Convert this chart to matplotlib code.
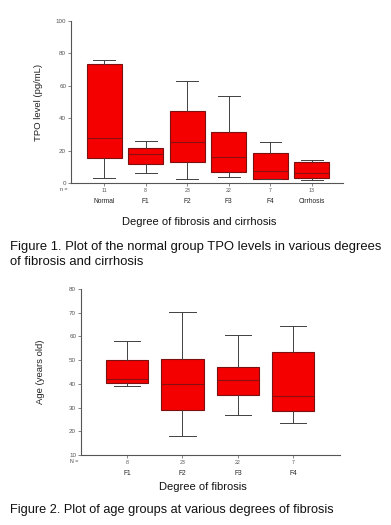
import matplotlib
matplotlib.use("Agg")
import matplotlib.pyplot as plt
import numpy as np

plt.rcParams["font.family"] = ["Liberation Sans", "DejaVu Sans"]

# Figure 1: TPO level by degree of fibrosis / cirrhosis
groups1 = ["Normal", "F1", "F2", "F3", "F4", "Cirrhosis"]
n1 = ["11", "8", "23", "22", "7", "13"]
low1 = [3.1, 6.0, 2.7, 3.5, 2.3, 2.1]
q1_1 = [15.4, 11.5, 12.7, 7.0, 2.7, 3.1]
med1 = [27.5, 17.7, 25.1, 16.2, 7.2, 6.2]
q3_1 = [73.3, 21.4, 44.6, 31.6, 18.7, 13.1]
high1 = [76.2, 26.1, 62.8, 54.0, 25.3, 14.4]

# Figure 2: age by degree of fibrosis
groups2 = ["F1", "F2", "F3", "F4"]
n2 = ["8", "23", "22", "7"]
low2 = [39.0, 17.9, 27.0, 23.7]
q1_2 = [40.4, 29.0, 35.1, 28.5]
med2 = [42.0, 40.0, 41.5, 35.0]
q3_2 = [50.0, 50.4, 47.1, 53.3]
high2 = [58.0, 70.2, 60.7, 64.4]

W, H = 391, 525
fig = plt.figure(figsize=(W / 100, H / 100), dpi=100)
fig.patch.set_facecolor("white")


def box_axes(rect, groups, n, low, q1, med, q3, high, width, xlim, ylim, yticks,
             ylabel, ylabel_x, xlabel, nlabel, xlabel_y):
    ax = fig.add_axes(rect)
    stats = []
    for i in range(len(groups)):
        stats.append({"whislo": low[i], "q1": q1[i], "med": med[i],
                      "q3": q3[i], "whishi": high[i], "fliers": []})
    pos = np.arange(1, len(groups) + 1)
    ax.bxp(stats, positions=pos, widths=width, patch_artist=True,
           showfliers=False,
           boxprops=dict(facecolor="#f40000", edgecolor="#7a1010", linewidth=0.8),
           medianprops=dict(color="#8a1010", linewidth=0.8),
           whiskerprops=dict(color="#404040", linewidth=0.7),
           capprops=dict(color="#404040", linewidth=0.7),
           capwidths=width * 0.62)
    ax.set_xlim(*xlim)
    ax.set_ylim(*ylim)
    ax.set_yticks(yticks)
    ax.set_yticklabels([str(t) for t in yticks], fontsize=4.5, color="#333333")
    ax.set_xticks(pos)
    ax.set_xticklabels(n, fontsize=3.8, color="#555555")
    ax.tick_params(axis="both", length=2, width=0.5, pad=1.5, colors="#555555")
    for s in ["top", "right"]:
        ax.spines[s].set_visible(False)
    for s in ["left", "bottom"]:
        ax.spines[s].set_linewidth(0.8)
        ax.spines[s].set_color("#555555")
    tr = ax.get_xaxis_transform()
    for p, g in zip(pos, groups):
        ax.annotate(g, xy=(p, 0), xycoords=tr, xytext=(0, -13),
                    textcoords="offset points", ha="center", va="center",
                    fontsize=4.8, color="#222222")
    ax.annotate(nlabel, xy=(0, 0), xycoords="axes fraction", xytext=(-5, -4.5),
                textcoords="offset points", ha="center", va="center",
                fontsize=3.8, color="#444444")
    ax.set_ylabel(ylabel, fontsize=6.8, color="#222222")
    ax.yaxis.set_label_coords(ylabel_x, 0.5)
    fig.text(rect[0] + rect[2] * 0.47, xlabel_y, xlabel, ha="center", va="center",
             fontsize=8, color="#111111")
    return ax


box_axes([71 / W, 1 - 183 / H, 272 / W, 162 / H], groups1, n1, low1, q1_1, med1,
         q3_1, high1, 0.84, (0.2, 6.75), (0, 100), [0, 20, 40, 60, 80, 100],
         "TPO level (pg/mL)", -0.103, "Degree of fibrosis and cirrhosis", "n =",
         1 - 222 / H)

fig.text(10 / W, 1 - 247 / H, "Figure 1. Plot of the normal group TPO levels in various degrees",
         ha="left", va="center", fontsize=9.4, color="#111111")
fig.text(10 / W, 1 - 262 / H, "of fibrosis and cirrhosis",
         ha="left", va="center", fontsize=9.4, color="#111111")

box_axes([81 / W, 1 - 455 / H, 259 / W, 166 / H], groups2, n2, low2, q1_2, med2,
         q3_2, high2, 0.76, (0.17, 4.84), (10, 80), [10, 20, 30, 40, 50, 60, 70, 80],
         "Age (years old)", -0.139, "Degree of fibrosis", "N =", 1 - 487 / H)

fig.text(10 / W, 1 - 510 / H, "Figure 2. Plot of age groups at various degrees of fibrosis",
         ha="left", va="center", fontsize=9.2, color="#111111")

fig.savefig("out.png", dpi=100)
